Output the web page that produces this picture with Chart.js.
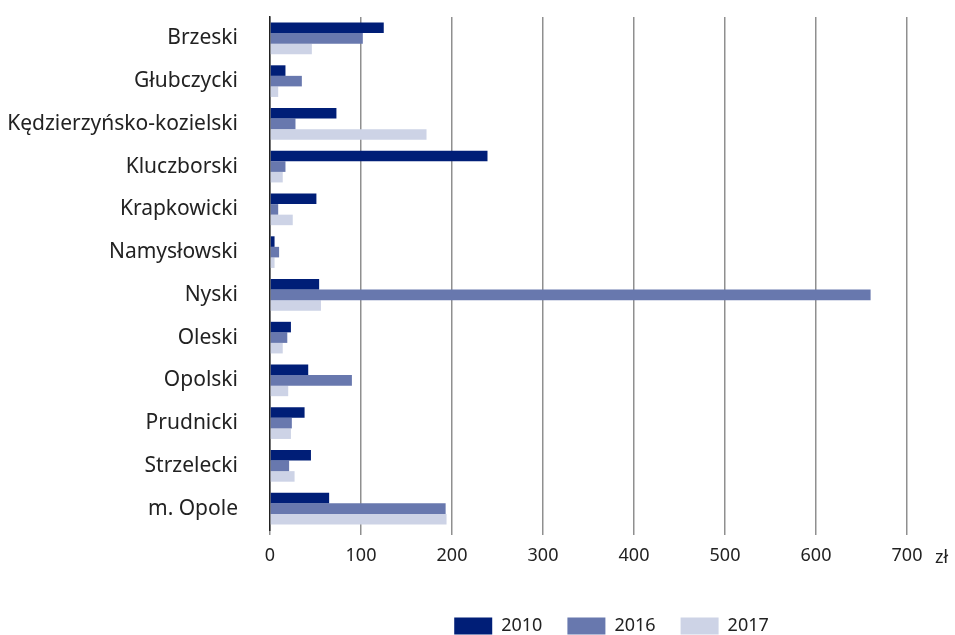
<!DOCTYPE html>
<html>
<head>
<meta charset="utf-8">
<script src="https://cdn.jsdelivr.net/npm/chart.js@4.4.1/dist/chart.umd.min.js"></script>
<style>
  html, body { margin: 0; padding: 0; background: #fff; }
  #wrap { width: 955px; height: 635px; }
</style>
</head>
<body>
<div id="wrap"><canvas id="chart"></canvas></div>
<script>
const labels = ["Brzeski", "Głubczycki", "Kędzierzyńsko-kozielski", "Kluczborski", "Krapkowicki",
  "Namysłowski", "Nyski", "Oleski", "Opolski", "Prudnicki", "Strzelecki", "m. Opole"];

const values2010 = [125, 17, 73, 239, 51, 5, 54, 23, 42, 38, 45, 65];
const values2016 = [102, 35, 28, 17, 9, 10, 660, 19, 90, 24, 21, 193];
const values2017 = [46, 9, 172, 14, 25, 5, 56, 14, 20, 23, 27, 194];

const xTicks = [0, 100, 200, 300, 400, 500, 600, 700];

const font = "'Noto Sans', sans-serif";

// unit label after the last tick
const unitLabel = {
  id: "unitLabel",
  afterDraw(chart) {
    const ctx = chart.ctx;
    const x = chart.scales.x;
    ctx.save();
    ctx.font = "18px " + font;
    ctx.fillStyle = "#222";
    ctx.textAlign = "left";
    ctx.textBaseline = "middle";
    ctx.fillText("zł", x.getPixelForValue(700) + 28, x.top + 28);
    ctx.restore();
  }
};

// legend sits to the right of centre and low in the original
const shiftLegend = {
  id: "shiftLegend",
  afterLayout(chart) {
    const lg = chart.legend;
    lg.left += 158;
    lg.right += 158;
    lg.top += 10;
    lg.bottom += 10;
  }
};

const data = {
  labels: labels,
  datasets: [
    { label: "2010", data: values2010, backgroundColor: "#001e77" },
    { label: "2016", data: values2016, backgroundColor: "#6878ae" },
    { label: "2017", data: values2017, backgroundColor: "#cdd3e6" },
  ],
};

const config = {
  type: "bar",
  data: data,
  options: {
    indexAxis: "y",
    responsive: true,
    maintainAspectRatio: false,
    animation: false,
    layout: { padding: { top: 17, right: 48, left: 0, bottom: 0 } },
    datasets: { bar: { categoryPercentage: 0.74, barPercentage: 1.0 } },
    scales: {
      x: {
        min: 0,
        max: 700,
        afterBuildTicks(scale) { scale.ticks = xTicks.map(v => ({ value: v })); },
        afterFit(scale) { scale.height = 52; },
        grid: { color: "#8f8f8f", lineWidth: 1.5, drawTicks: true, tickLength: 5 },
        border: { display: false },
        ticks: { color: "#222", font: { family: font, size: 18 }, padding: 10, maxRotation: 0 },
      },
      y: {
        afterFit(scale) {
          scale.width = 270;
          scale.paddingTop = 0;
          scale.paddingBottom = 0;
        },
        grid: { display: false },
        border: { display: true, color: "#222", width: 1.5 },
        ticks: { color: "#222", font: { family: font, size: 21 }, padding: 24 },
      },
    },
    plugins: {
      legend: {
        position: "bottom",
        labels: {
          color: "#222",
          font: { family: font, size: 18 },
          boxWidth: 38,
          boxHeight: 17,
          padding: 25,
        },
      },
      tooltip: { enabled: false },
    },
  },
  plugins: [unitLabel, shiftLegend],
};

const myChart = new Chart(document.getElementById("chart"), config);
</script>
</body>
</html>
